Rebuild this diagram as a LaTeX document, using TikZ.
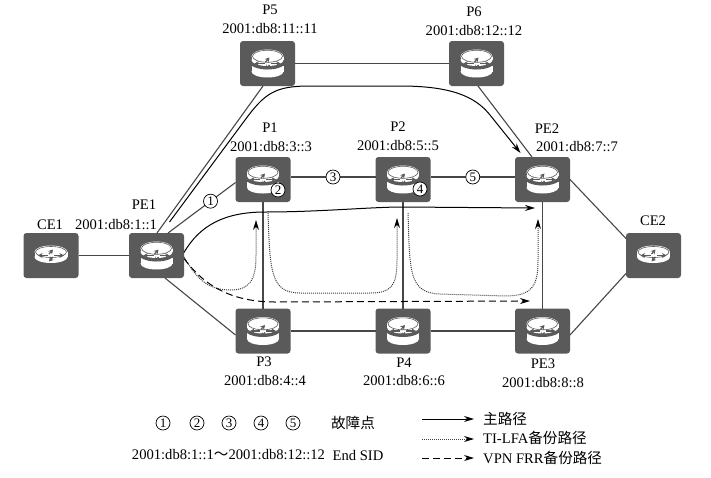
\documentclass[tikz,border=0pt]{standalone}
\usepackage{fontspec}
\setmainfont{Liberation Serif}
\newfontfamily\cjk{Noto Sans CJK SC}
\usepackage{tikz}
\usetikzlibrary{arrows.meta,positioning}
\definecolor{routergray}{HTML}{5A5A5A}
\definecolor{linkgray}{HTML}{474747}
% arrows on the face of a router
\newcommand{\faceicon}[1]{%
  \begin{scope}[yshift=#1]
    \foreach \tox/\toy/\fromx/\fromy in {-13/0/-3/0, 13/0/3/0, 2/-6/-2/-1.5, -2/6/2/1.5}
      \draw[draw=routergray, line width=1.2pt, -{Stealth[length=4.5pt,width=5pt,color=routergray]}]
        (\fromx,\fromy) -- (\tox,\toy);
  \end{scope}}
\newcommand{\twodisc}{%
  \begin{scope}[shift={(path picture bounding box.center)}, sharp corners]
    \fill[white] (0,8) ellipse (16 and 6);
    \fill[white] (-16,2) rectangle (16,8);
    \fill[routergray] (0,-1) ellipse (17.5 and 7);
    \fill[white] (0,-3.5) ellipse (16 and 6);
    \fill[white] (-16,-7) rectangle (16,-3.5);
    \fill[white] (0,-7) ellipse (16 and 7);
    \draw[routergray, line width=.6pt] (0,-7.2) ellipse (15 and 6);
    \faceicon{7.2pt}
  \end{scope}}
\newcommand{\onedisc}{%
  \begin{scope}[shift={(path picture bounding box.center)}, sharp corners]
    \fill[white] (0,1.5) ellipse (16.5 and 6);
    \fill[white] (-16.5,-3.5) rectangle (16.5,1.5);
    \fill[white] (0,-3.5) ellipse (16.5 and 6.5);
    \draw[routergray, line width=.6pt] (0,-3.5) ellipse (15.5 and 5.5);
    \faceicon{3.5pt}
  \end{scope}}

\begin{document}
\begin{tikzpicture}[
  x=1pt, y=-1pt,
  font=\fontsize{14.6}{16}\selectfont,
  routerbase/.style={rectangle, rounded corners=3pt, fill=routergray, inner sep=0pt,
              outer sep=0pt, minimum width=55pt, minimum height=45pt},
  router/.style={routerbase, path picture={\twodisc}},
  cerouter/.style={routerbase, path picture={\onedisc}},
  link/.style={draw=linkgray, line width=1.1pt},
  arr/.style={-{Stealth[length=10pt,width=6pt,color=black]}, line width=1pt, black},
  mainpath/.style={arr},
  tilfa/.style={arr, densely dotted, draw=black!75},
  vpnfrr/.style={arr, dash pattern=on 7pt off 4pt},
  fault/.style={circle, draw=black, fill=white, line width=.7pt, inner sep=0pt,
              minimum size=14pt, font=\fontsize{13}{14}\selectfont},
  lbl/.style={inner sep=0pt}
]
\useasboundingbox (0,0) rectangle (711,477);

\node[cerouter] (CE1) at (51,255.5) {};
\node[router] (PE1) at (156.5,255.5) {};
\node[router] (P1) at (263,179.5) {};
\node[router] (P2) at (403,179.5) {};
\node[router] (PE2) at (542.5,179.5) {};
\node[router] (P3) at (263,331) {};
\node[router] (P4) at (403,331) {};
\node[router] (PE3) at (542.5,331) {};
\node[router] (P5) at (267.5,63.5) {};
\node[router] (P6) at (476.5,63.5) {};
\node[cerouter] (CE2) at (653.5,255.5) {};

\node[lbl] (P5name) at (270,10) {P5};
\node[lbl] (P5addr) at (270,29) {2001:db8:11::11};
\node[lbl] (P6name) at (474,12) {P6};
\node[lbl] (P6addr) at (474,31) {2001:db8:12::12};
\node[lbl] (P1name) at (270,128) {P1};
\node[lbl] (P1addr) at (271,147) {2001:db8:3::3};
\node[lbl] (P2name) at (398,127) {P2};
\node[lbl] (P2addr) at (398,146) {2001:db8:5::5};
\node[lbl] (PE2name) at (547,129) {PE2};
\node[lbl] (PE2addr) at (577,147) {2001:db8:7::7};
\node[lbl] (PE1name) at (144,205) {PE1};
\node[lbl] (PE1addr) at (116,225) {2001:db8:1::1};
\node[lbl] (CE1name) at (50,225) {CE1};
\node[lbl] (CE2name) at (653,221) {CE2};
\node[lbl] (P3name) at (264,362) {P3};
\node[lbl] (P3addr) at (265,381) {2001:db8:4::4};
\node[lbl] (P4name) at (404,363) {P4};
\node[lbl] (P4addr) at (404,381) {2001:db8:6::6};
\node[lbl] (PE3name) at (543,364) {PE3};
\node[lbl] (PE3addr) at (543,383) {2001:db8:8::8};

% links
\draw[link] (CE1) -- (PE1);
\draw[link] (P5) -- (P6);
\draw[link] ([xshift=.5pt]PE1.north) -- ([xshift=-4.5pt]P5.south);
\draw[link] ([xshift=11.5pt]PE1.north) -- node[fault, pos=.63] (f1) {1} ([yshift=-3pt]P1.west);
\draw[link] ([xshift=8.5pt]PE1.south) -- ([yshift=-4pt]P3.west);
\draw[link] ([yshift=2.5pt]P1.east) -- node[fault] (f3) {3} ([yshift=2.5pt]P2.west);
\draw[link] ([yshift=2.5pt]P2.east) -- node[fault] (f5) {5} ([yshift=2.5pt]PE2.west);
\draw[link] (P3) -- (P4);
\draw[link] (P4) -- (PE3);
\draw[link] (P1) -- (P3);
\draw[link] (P2) -- (P4);
\draw[link] (PE2) -- (PE3);
\draw[link] ([xshift=1.5pt]P6.south) -- ([xshift=-10.5pt]PE2.north);
\draw[link] (PE2.east) -- ([yshift=17pt]CE2.west);
\draw[link] ([yshift=-4pt]PE3.east) -- ([yshift=-18pt]CE2.west);

% paths
\draw[mainpath] ([shift={(13pt,11pt)}]PE1.north) -- (245,120) .. controls (265,93) and (275,86) .. (310,86)
  -- (400,86) .. controls (450,86) and (475,96) .. (490,115) -- ([shift={(-22pt,4pt)}]PE2.north);
\draw[mainpath] ([yshift=3pt]PE1.east) .. controls (200,225) and (225,212) .. (265,212)
  .. controls (320,212) and (370,207) .. (403,207) -- ([shift={(-7.5pt,-6pt)}]PE2.south);
\draw[tilfa] ([yshift=-1.5pt]PE1.east) .. controls (195,275) and (205,290) .. (230,290)
  .. controls (250,290) and (256,280) .. (256,255) -- ([shift={(-7pt,-18pt)}]P1.south);
\draw[tilfa] ([shift={(5pt,-11pt)}]P1.south) .. controls (270,270) and (270,293) .. (300,293)
  -- (370,293) .. controls (392,293) and (397,285) .. (397,260) -- ([shift={(-6pt,-16pt)}]P2.south);
\draw[tilfa] ([shift={(5pt,-11pt)}]P2.south) .. controls (410,270) and (408,293) .. (440,294)
  -- (505,296) .. controls (533,296) and (538,285) .. (538,260) -- ([shift={(-4.5pt,-17pt)}]PE2.south);
\draw[vpnfrr] ([yshift=-3pt]PE1.east) .. controls (200,280) and (225,302) .. (275,302)
  -- ([shift={(-12.5pt,7.5pt)}]PE3.north);

\node[fault] (f2) at (278,190) {2};
\node[fault] (f4) at (420,189) {4};

% legend
\node[fault] (leg1) at (163,423) {1};
\node[fault] (leg2) at (197,423) {2};
\node[fault] (leg3) at (229,423) {3};
\node[fault] (leg4) at (261,423) {4};
\node[fault] (leg5) at (293,423) {5};
\node[lbl] (legfault) at (353,423) {\cjk 故障点};
\node[lbl] (legsid) at (228.5,455) {2001:db8:1::1{\cjk ～}2001:db8:12::12};
\node[lbl] (legend) at (358,455) {End SID};
\node[lbl, anchor=west] (legmain) at (483,419) {\cjk 主路径};
\node[lbl, anchor=west] (legti) at (483,438) {TI-LFA{\cjk 备份路径}};
\node[lbl, anchor=west] (legvpn) at (483,458) {VPN FRR{\cjk 备份路径}};
\coordinate (mainfrom) at (422,419);
\coordinate (tifrom) at (422,439);
\coordinate (vpnfrom) at (422,458);
\draw[mainpath] (mainfrom) -- ([xshift=-9pt]legmain.west);
\draw[tilfa] (tifrom) -- ([xshift=-9pt,yshift=-1pt]legti.west);
\draw[vpnfrr] (vpnfrom) -- ([xshift=-9pt]legvpn.west);
\end{tikzpicture}
\end{document}
